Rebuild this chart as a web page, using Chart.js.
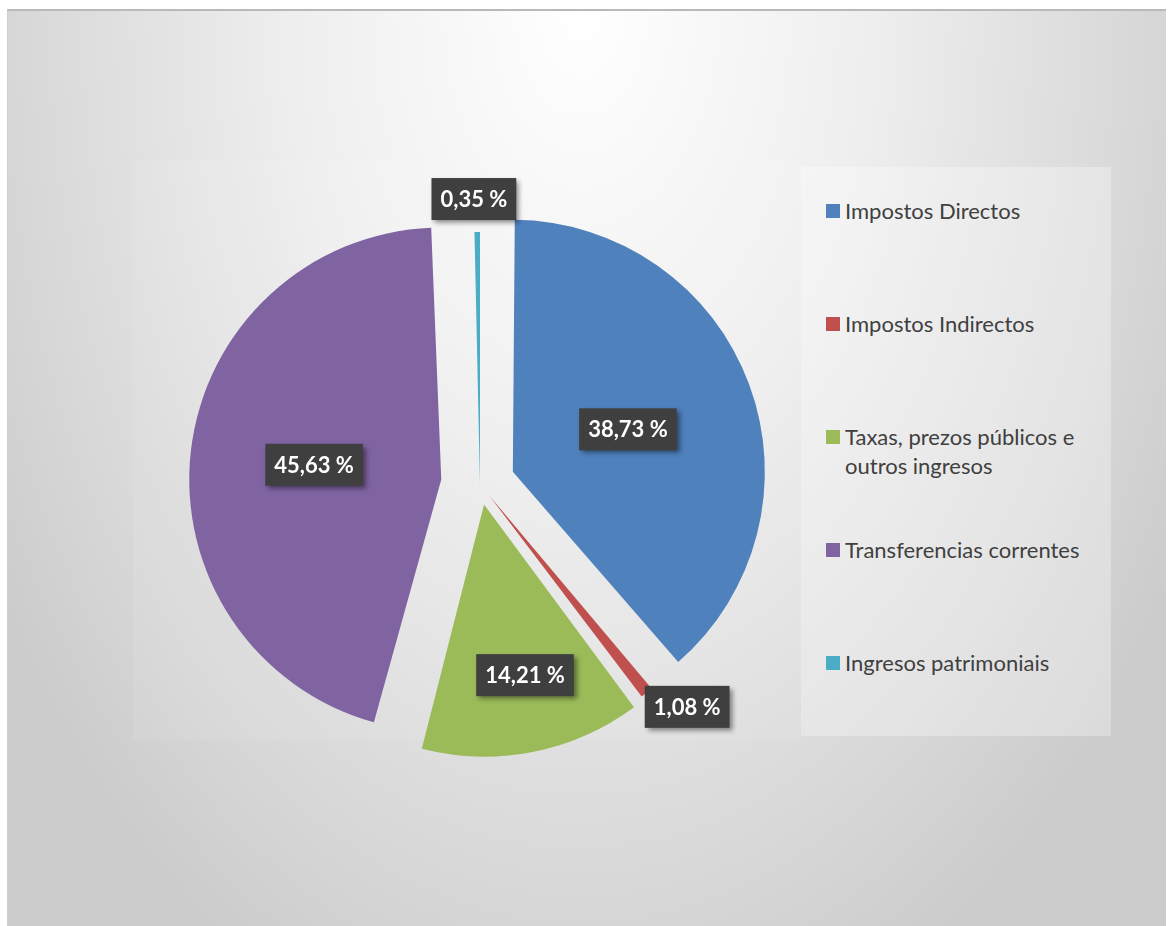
<!DOCTYPE html>
<html>
<head>
<meta charset="utf-8">
<script src="https://cdn.jsdelivr.net/npm/chart.js@4.4.1/dist/chart.umd.min.js"></script>
<style>
  html, body { margin: 0; padding: 0; background: #fff; }
  #frame {
    position: absolute; left: 7px; top: 9px; width: 1159px; height: 917px;
    box-sizing: border-box;
    border-top: 2px solid #b9b9b9; border-left: 1px solid #cfcfcf;
    background: radial-gradient(ellipse 700px 1100px at 573px 0px,
      #ffffff 0%, #eeeeee 42%, #d9d9d9 78%, #cbcbcb 100%);
  }
  #plotBox {
    position: absolute; left: 133px; top: 160px; width: 668px; height: 580px;
    background: rgba(255, 255, 255, 0.08);
  }
  #legendBox {
    position: absolute; left: 801px; top: 167px; width: 310px; height: 569px;
    background: rgba(255, 255, 255, 0.3);
  }
  #chart { position: absolute; left: 0; top: 0; }
  .item {
    position: absolute; left: 826px; width: 290px;
    font-family: Lato, "Open Sans", sans-serif; font-size: 22px;
    line-height: 29px; color: #404040;
  }
  .item .sw { position: absolute; left: 0; top: 8px; width: 14px; height: 14px; }
  .item .tx { margin-left: 19px; width: 250px; }
</style>
</head>
<body>
<div id="frame"></div>
<div id="plotBox"></div>
<div id="legendBox"></div>
<div id="legend"></div>
<canvas id="chart" width="1169" height="926"></canvas>
<script>
const categories = [
  "Impostos Directos",
  "Impostos Indirectos",
  "Taxas, prezos públicos e outros ingresos",
  "Transferencias correntes",
  "Ingresos patrimoniais"
];
const shares = [38.73, 1.08, 14.21, 45.63, 0.35];
const sliceColors = ["#4f81bd", "#c0504d", "#9bbb59", "#8064a2", "#4bacc6"];

// how far each slice is pulled out, in px
const explode = [35, 15, 21, 39, 0];
// value boxes: distance from slice tip (share of radius), turn off the mid angle (deg)
const labelSpots = [[0.487, 0], [1.148, -4.5], [0.696, -2.4], [0.508, 0], [1.131, -0.6]];
const pieRadius = 252;

// legend
const legend = document.getElementById("legend");
categories.forEach((name, i) => {
  const el = document.createElement("div");
  el.className = "item";
  el.style.top = (196 + i * 113) + "px";
  el.innerHTML = `<span class="sw" style="background:${sliceColors[i]}"></span><div class="tx">${name}</div>`;
  legend.appendChild(el);
});

// chart.js grows exploded arcs a bit, keep them all on one radius
const sameRadius = {
  id: "sameRadius",
  afterDatasetUpdate(chart, args) {
    args.meta.data.forEach((arc, i) => {
      const fix = 1 - Math.sin(Math.min(Math.PI, arc.circumference));
      arc.outerRadius = pieRadius - explode[i] * fix;
    });
  }
};

const valueBoxes = {
  id: "valueBoxes",
  afterDatasetsDraw(chart) {
    const ctx = chart.ctx;
    const meta = chart.getDatasetMeta(0);
    ctx.save();
    ctx.font = "bold 22px Lato, 'Open Sans', sans-serif";
    ctx.textAlign = "center";
    ctx.textBaseline = "middle";
    meta.data.forEach((arc, i) => {
      const mid = (arc.startAngle + arc.endAngle) / 2;
      const tipX = arc.x + Math.cos(mid) * explode[i];
      const tipY = arc.y + Math.sin(mid) * explode[i];
      const a = mid + labelSpots[i][1] * Math.PI / 180;
      const r = labelSpots[i][0] * pieRadius;
      const x = tipX + Math.cos(a) * r;
      const y = tipY + Math.sin(a) * r;
      const text = shares[i].toFixed(2).replace(".", ",") + " %";
      const w = ctx.measureText(text).width + 18;
      const h = 42;
      ctx.shadowColor = "rgba(0,0,0,0.45)";
      ctx.shadowBlur = 5;
      ctx.shadowOffsetX = 3;
      ctx.shadowOffsetY = 3;
      ctx.fillStyle = "#3f3f3f";
      ctx.fillRect(x - w / 2, y - h / 2, w, h);
      ctx.shadowColor = "transparent";
      ctx.fillStyle = "#ffffff";
      ctx.fillText(text, x, y + 1);
    });
    ctx.restore();
  }
};

new Chart(document.getElementById("chart"), {
  type: "pie",
  data: {
    labels: categories,
    datasets: [{
      data: shares,
      backgroundColor: sliceColors,
      borderWidth: 0,
      offset: explode.map(v => v * 4)
    }]
  },
  options: {
    responsive: false,
    animation: false,
    events: [],
    radius: pieRadius,
    layout: { padding: { left: 0, right: 209, top: 42, bottom: 0 } },
    plugins: {
      legend: { display: false },
      tooltip: { enabled: false }
    }
  },
  plugins: [sameRadius, valueBoxes]
});
</script>
</body>
</html>
